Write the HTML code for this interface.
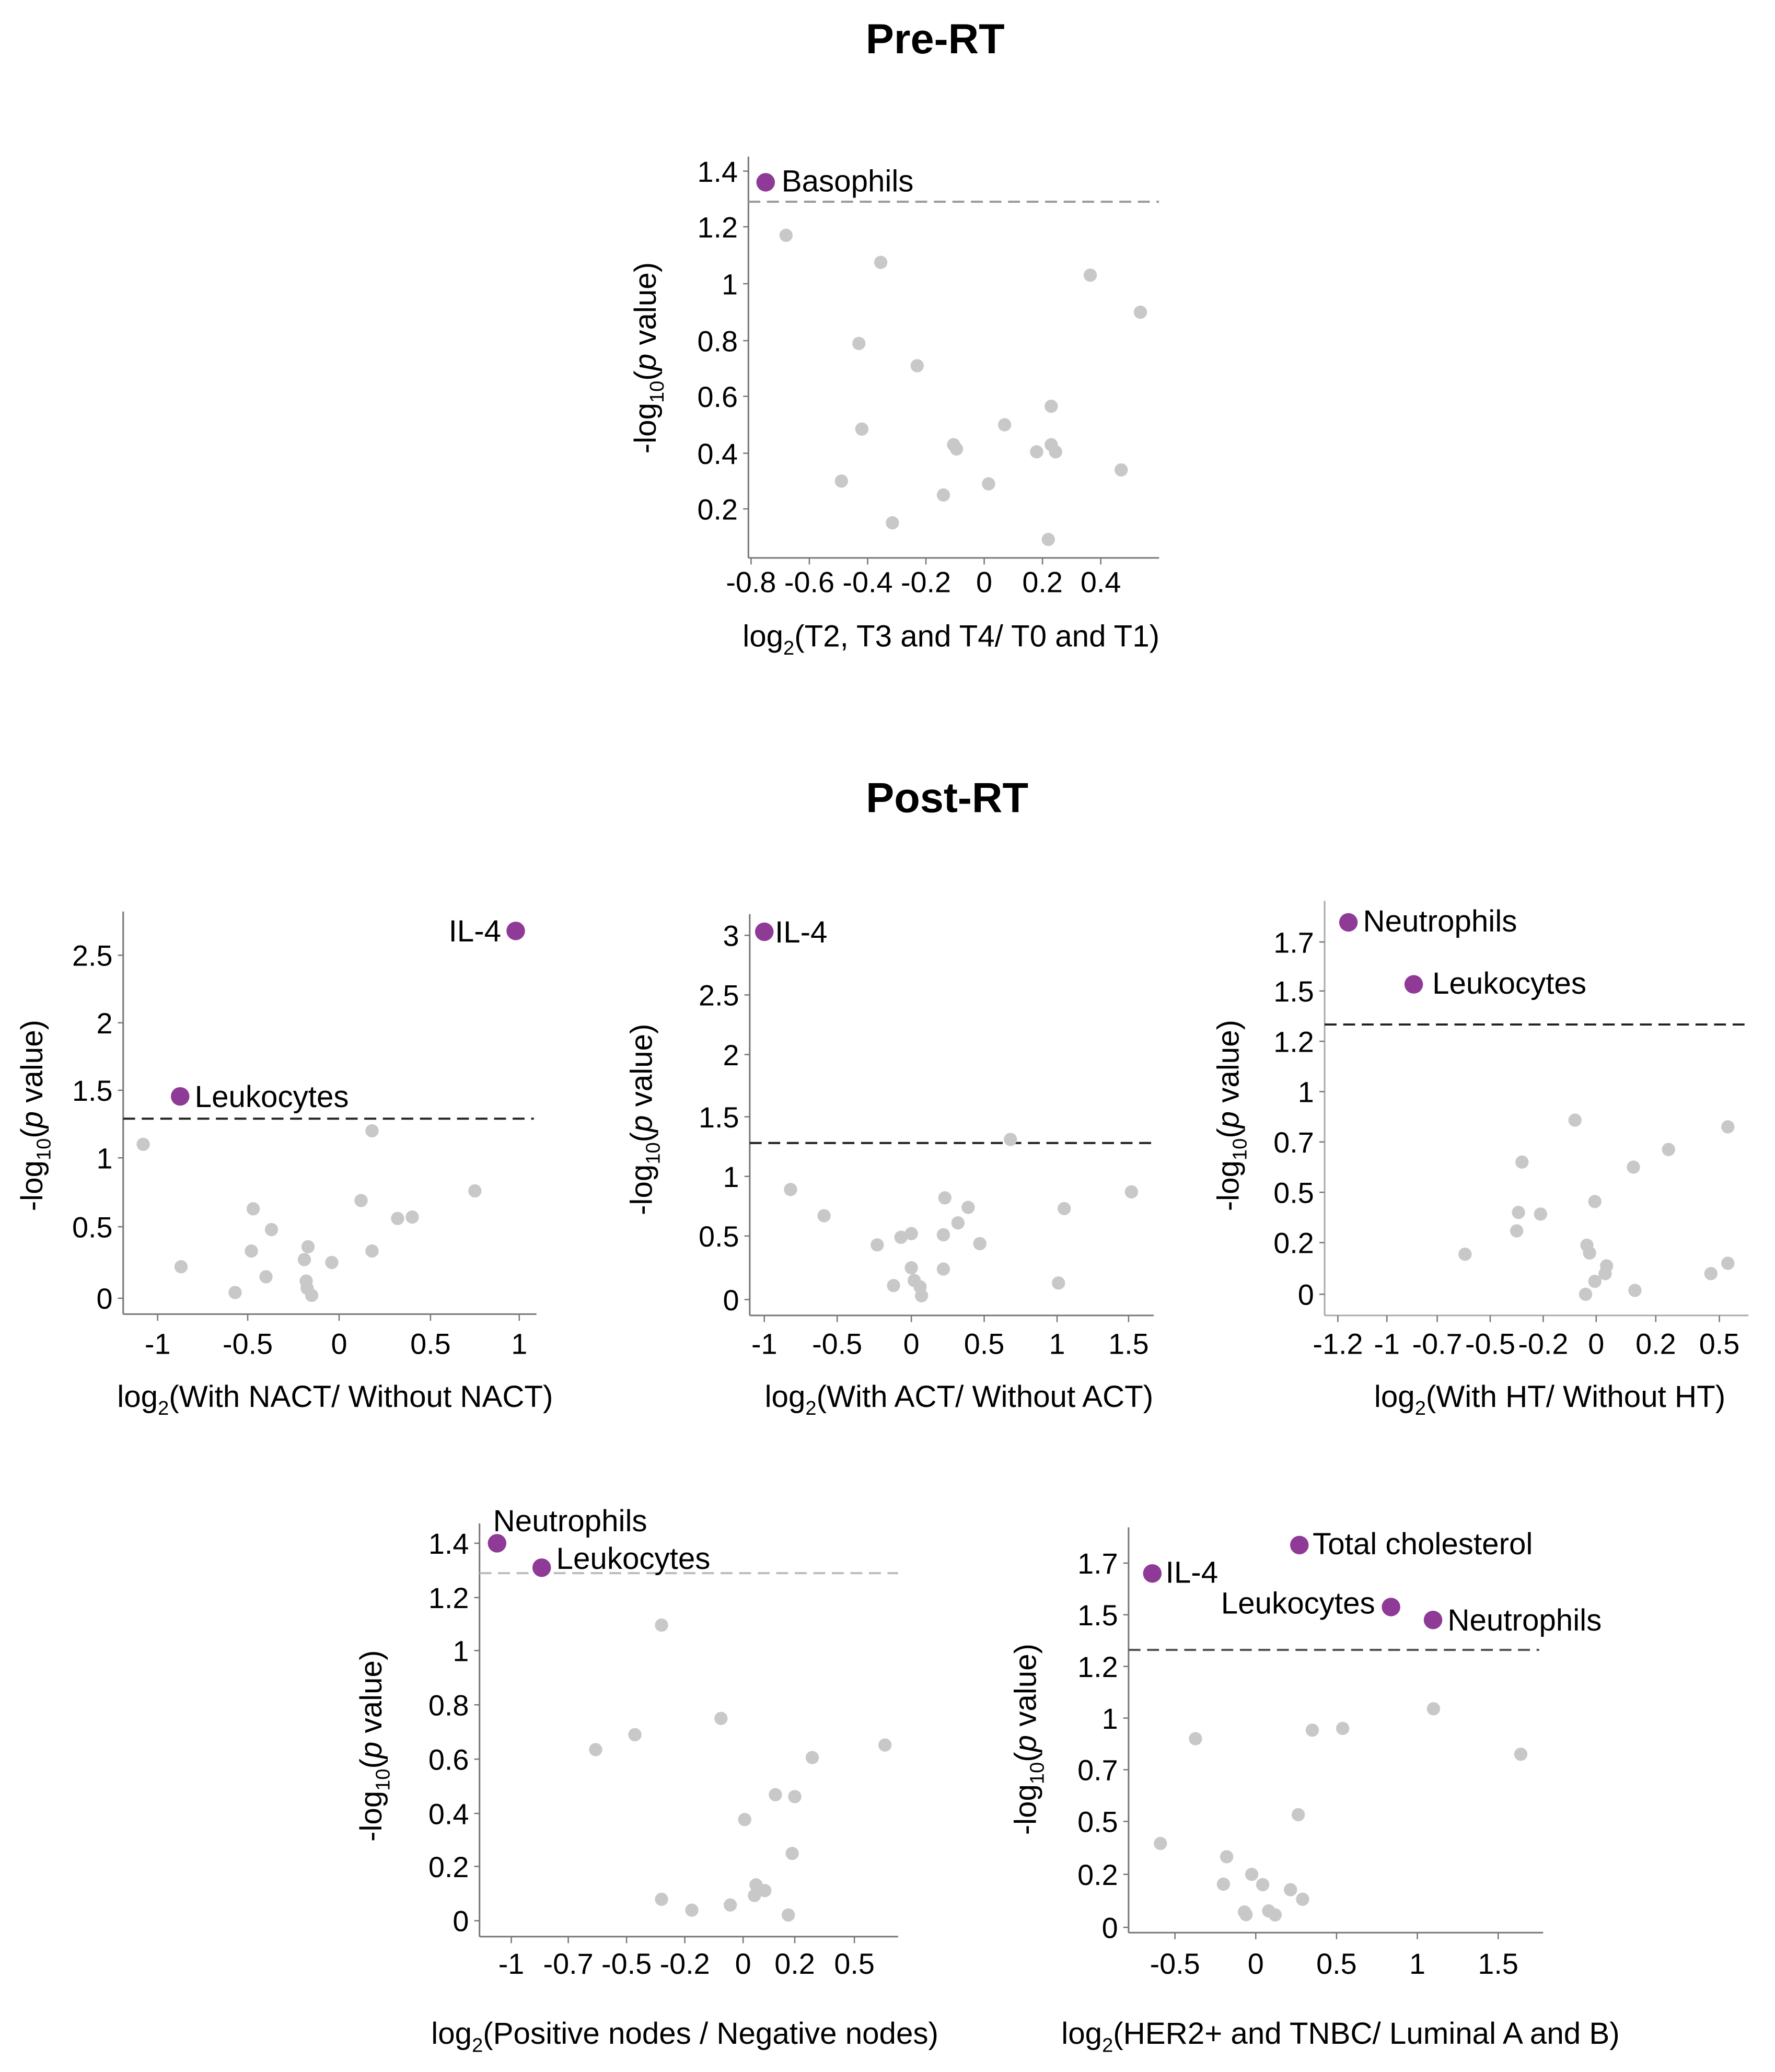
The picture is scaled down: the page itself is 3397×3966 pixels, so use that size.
<!DOCTYPE html>
<html><head><meta charset="utf-8"><style>
html,body{margin:0;padding:0;background:#fff;}
svg{display:block;font-family:"Liberation Sans",Arial,sans-serif;}
</style></head><body>
<svg id="fig" width="3397" height="3966" viewBox="0 0 1340 1564" xmlns="http://www.w3.org/2000/svg">
<text x="706" y="40" text-anchor="middle" font-size="32" font-weight="bold">Pre-RT</text>
<text x="715" y="613" text-anchor="middle" font-size="32" font-weight="bold">Post-RT</text>
</svg>
<script>
// ---- data: Pre-RT (T stage)
const preX = [-0.68,-0.355,0.364,0.536,-0.43,-0.23,0.23,-0.42,0.07,-0.105,-0.095,0.18,0.23,0.245,0.47,-0.49,0.015,-0.14,-0.315,0.22];
const preY = [1.17,1.075,1.03,0.90,0.79,0.71,0.565,0.485,0.50,0.43,0.415,0.405,0.43,0.405,0.34,0.30,0.29,0.25,0.15,0.09];
const preSigNames = ["Basophils"];
const preSigX = [-0.75];
const preSigY = [1.36];
const preXTicks = [-0.8,-0.6,-0.4,-0.2,0,0.2,0.4];
const preYTicks = [0.2,0.4,0.6,0.8,1,1.2,1.4];
// ---- NACT
const nactX = [-1.08,0.18,0.75,0.12,-0.47,0.32,0.40,-0.37,-0.48,-0.17,0.18,-0.87,-0.04,-0.19,-0.40,-0.18,-0.175,-0.57,-0.15];
const nactY = [1.10,1.20,0.76,0.69,0.63,0.56,0.57,0.48,0.33,0.36,0.33,0.22,0.25,0.27,0.15,0.12,0.07,0.04,0.02];
const nactSigNames = ["IL-4","Leukocytes"];
const nactSigX = [0.98,-0.875];
const nactSigY = [2.68,1.455];
const nactXTicks = [-1,-0.5,0,0.5,1];
const nactYTicks = [0,0.5,1,1.5,2,2.5];
// ---- ACT
const actX = [0.68,-0.82,1.52,-0.59,0.23,0.39,1.05,0.32,-0.23,0,-0.07,0.22,0.47,0,0.22,0.02,-0.12,0.06,1.01,0.07];
const actY = [1.31,0.89,0.87,0.67,0.82,0.74,0.73,0.61,0.43,0.52,0.49,0.51,0.44,0.25,0.24,0.15,0.11,0.10,0.13,0.03];
const actSigNames = ["IL-4"];
const actSigX = [-1.0];
const actSigY = [3.03];
const actXTicks = [-1,-0.5,0,0.5,1,1.5];
const actYTicks = [0,0.5,1,1.5,2,2.5,3];
// ---- HT
const htX = [-0.08,0.54,0.26,-0.32,0.125,-0.005,-0.34,-0.215,-0.35,-0.035,-0.025,-0.595,0.035,0.54,0.03,-0.005,0.46,0.13,-0.04];
const htY = [0.83,0.79,0.67,0.62,0.60,0.445,0.38,0.37,0.27,0.19,0.16,0.155,0.11,0.12,0.08,0.05,0.08,0.015,0.0];
const htSigNames = ["Neutrophils","Leukocytes"];
const htSigX = [-1.157,-0.84];
const htSigY = [1.78,1.527];
const htXTicks = [-1.2,-1,-0.7,-0.5,-0.2,0,0.2,0.5];
const htYTicks = [0,0.2,0.5,0.7,1,1.2,1.5,1.7];
// ---- Nodes
const nodX = [-0.32,-0.076,-0.457,-0.606,0.654,0.288,0.125,0.2,0.006,0.19,0.05,0.084,0.044,-0.32,-0.176,-0.044,0.175];
const nodY = [1.096,0.75,0.69,0.635,0.652,0.606,0.469,0.462,0.377,0.249,0.132,0.111,0.093,0.079,0.039,0.058,0.021];
const nodSigNames = ["Neutrophils","Leukocytes"];
const nodSigX = [-1.075,-0.84];
const nodSigY = [1.40,1.31];
const nodXTicks = [-1,-0.7,-0.5,-0.2,0,0.2,0.5];
const nodYTicks = [0,0.2,0.4,0.6,0.8,1,1.2,1.4];
// ---- HER2
const herX = [1.10,0.35,0.538,-0.373,1.64,0.263,-0.59,-0.18,-0.025,-0.2,0.043,0.215,0.29,-0.07,-0.06,0.08,0.12];
const herY = [1.036,0.93,0.94,0.88,0.79,0.526,0.375,0.30,0.2,0.163,0.161,0.142,0.106,0.058,0.048,0.062,0.047];
const herSigNames = ["Total cholesterol","IL-4","Leukocytes","Neutrophils"];
const herSigX = [0.27,-0.64,0.837,1.097];
const herSigY = [1.77,1.66,1.53,1.47];
const herXTicks = [-0.5,0,0.5,1,1.5];
const herYTicks = [0,0.2,0.5,0.7,1,1.2,1.5,1.7];

const NS="http://www.w3.org/2000/svg";
const svg=document.getElementById('fig');
function mk(tag,attrs,parent){const e=document.createElementNS(NS,tag);for(const k in attrs)e.setAttribute(k,attrs[k]);(parent||svg).appendChild(e);return e;}
function pw(dom,rng){return v=>{let i=0;const n=dom.length;if(v<=dom[0])i=0;else if(v>=dom[n-1])i=n-2;else{while(i<n-2&&v>dom[i+1])i++;}const t=(v-dom[i])/(dom[i+1]-dom[i]);return rng[i]+t*(rng[i+1]-rng[i]);};}

function chart(c){
  const g=mk('g',{});
  
  
  const sx=pw(c.xt,c.xp), sy=pw(c.yt,c.yp);
  const ax=mk('line',{x1:c.L,y1:c.T,x2:c.L,y2:c.B,stroke:c.axc||'#777','stroke-width':1.2},g);
  
  const bx=mk('line',{x1:c.L,y1:c.B,x2:c.R,y2:c.B,stroke:c.axc||'#777','stroke-width':1.2},g);
  
  c.yt.forEach(v=>{const y=sy(v);mk('line',{x1:c.L-4,y1:y,x2:c.L,y2:y,stroke:'#777'},g);
    const t=mk('text',{x:c.L-8,y:y+8,'text-anchor':'end','font-size':22},g);t.textContent=String(v);
    });
  c.xt.forEach(v=>{const x=sx(v);mk('line',{x1:x,y1:c.B,x2:x,y2:c.B+5,stroke:'#777'},g);
    const t=mk('text',{x:x,y:c.xly,'text-anchor':'middle','font-size':22},g);t.textContent=String(v);
    });
  const d=mk('line',{x1:c.L,y1:sy(c.thr),x2:c.dR,y2:sy(c.thr),stroke:c.dc,'stroke-width':1.6,'stroke-dasharray':'9,5'},g);
  
  c.gx.forEach((v,i)=>{const p=mk('circle',{cx:sx(v),cy:sy(c.gy[i]),r:5,fill:'#c8c8c8'},g);
    });
  c.sx.forEach((v,i)=>{const x=sx(v),y=sy(c.sy[i]);
    const p=mk('circle',{cx:x,cy:y,r:7,fill:'#8e3a96'},g);
    
    const o=c.lo[i];const t=mk('text',{x:x+o[0],y:y+o[1],'text-anchor':o[2],'font-size':23},g);t.textContent=c.sn[i];
    });
  const yt=mk('text',{transform:`translate(${c.ytx},${c.yty}) rotate(-90)`,'text-anchor':'middle','font-size':23},g);
  yt.innerHTML='-log<tspan font-size="15" dy="6">10</tspan><tspan dy="-6">(</tspan><tspan font-style="italic">p</tspan> value)';
  
  const xt=mk('text',{x:c.xtx,y:c.xty,'text-anchor':'middle','font-size':23},g);
  xt.innerHTML='log<tspan font-size="15" dy="6">2</tspan><tspan dy="-6">'+c.xlab+'</tspan>';
  
}

chart({id:'pre-rt',L:565,T:118,B:421,R:875,dR:875,xt:preXTicks,xp:[567,611,655,699,743,787,831],yt:preYTicks,yp:[384,342,299,257,214,171,129],
 xly:447,thr:1.29,dc:'#999',gx:preX,gy:preY,sx:preSigX,sy:preSigY,sn:preSigNames,lo:[[12,7,'start']],
 ytx:495,yty:270,xtx:718,xty:488,xlab:'(T2, T3 and T4/ T0 and T1)'});
chart({id:'nact',L:93,T:688,B:992,R:405,dR:403,xt:nactXTicks,xp:[119,187,256,325,392],yt:nactYTicks,yp:[980,926,874,823,772,721],
 xly:1022,thr:1.29,dc:'#222',gx:nactX,gy:nactY,sx:nactSigX,sy:nactSigY,sn:nactSigNames,lo:[[-11,8,'end'],[11,8,'start']],
 ytx:32,yty:842,xtx:253,xty:1062,xlab:'(With NACT/ Without NACT)'});
chart({id:'act',L:566,T:690,B:993,R:871,dR:870,xt:actXTicks,xp:[577,632,688,743,798,852],yt:actYTicks,yp:[981,933,888,843,796,751,706],
 xly:1022,thr:1.28,dc:'#222',gx:actX,gy:actY,sx:actSigX,sy:actSigY,sn:actSigNames,lo:[[8,8,'start']],
 ytx:492,yty:845,xtx:724,xty:1062,xlab:'(With ACT/ Without ACT)'});
chart({id:'ht',L:1000,T:680,B:993,R:1320,dR:1320,axc:'#aaa',xt:htXTicks,xp:[1010,1047,1085,1125,1165,1205,1250,1298],yt:htYTicks,yp:[977,938,900,862,824,786,748,711],
 xly:1022,thr:1.3,dc:'#222',gx:htX,gy:htY,sx:htSigX,sy:htSigY,sn:htSigNames,lo:[[11,7,'start'],[14,7,'start']],
 ytx:935,yty:842,xtx:1170,xty:1062,xlab:'(With HT/ Without HT)'});
chart({id:'nodes',L:362,T:1150,B:1462,R:678,dR:678,xt:nodXTicks,xp:[386,429,473,517,561,600,645],yt:nodYTicks,yp:[1450,1409,1369,1328,1287,1246,1206,1165],
 xly:1490,thr:1.29,dc:'#bbb',gx:nodX,gy:nodY,sx:nodSigX,sy:nodSigY,sn:nodSigNames,lo:[[-3,-9,'start'],[11,1,'start']],
 ytx:288,yty:1318,xtx:517,xty:1543,xlab:'(Positive nodes / Negative nodes)'});
chart({id:'her2',L:852,T:1153,B:1459,R:1165,dR:1162,xt:herXTicks,xp:[887,948,1009,1070,1131],yt:herYTicks,yp:[1455,1415,1375,1336,1297,1258,1219,1180],
 xly:1490,thr:1.296,dc:'#555',gx:herX,gy:herY,sx:herSigX,sy:herSigY,sn:herSigNames,lo:[[10,7,'start'],[10,7,'start'],[-12,5,'end'],[11,8,'start']],
 ytx:782,yty:1313,xtx:1012,xty:1543,xlab:'(HER2+ and TNBC/ Luminal A and B)'});
</script>
</body></html>
